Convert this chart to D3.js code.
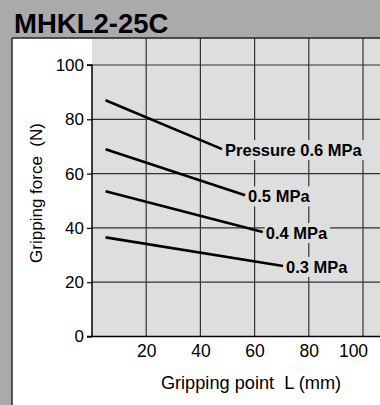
<!DOCTYPE html>
<html>
<head>
<meta charset="utf-8">
<script src="https://cdn.jsdelivr.net/npm/d3@7"></script>
<style>
  html, body { margin: 0; padding: 0; background: #aaaaaa; }
  svg { display: block; }
  text { font-family: "Liberation Sans", Arial, Helvetica, sans-serif; }
</style>
</head>
<body>
<svg id="chart" width="380" height="405"></svg>
<script>
const title = "MHKL2-25C";
const seriesNames = ["Pressure 0.6 MPa", "0.5 MPa", "0.4 MPa", "0.3 MPa"];
const gripStart = [5, 5, 5, 5];
const gripEnd = [48, 56.5, 63, 70.5];
const forceStart = [87, 69, 53.5, 36.5];
const forceEnd = [69, 52, 38.5, 26];
const xTicks = [20, 40, 60, 80, 100];
const yTicks = [0, 20, 40, 60, 80, 100];
const xLabel = "Gripping point  L (mm)";
const yLabel = "Gripping force  (N)";

const W = 380, H = 405;
const svg = d3.select("#chart");

svg.append("rect").attr("width", W).attr("height", H).attr("fill", "#aaaaaa");
svg.append("text").attr("x", 14).attr("y", 33)
  .attr("font-size", 27.5).attr("font-weight", "bold").attr("fill", "#000")
  .text(title);
svg.append("rect").attr("x", 12).attr("y", 38).attr("width", W - 12).attr("height", H - 38)
  .attr("fill", "#ffffff");
svg.append("line").attr("x1", 12).attr("x2", 12).attr("y1", 38).attr("y2", H)
  .attr("stroke", "#111").attr("stroke-width", 1.3);

const x = d3.scaleLinear().domain([0, 100]).range([92, 363]);
const y = d3.scaleLinear().domain([0, 100]).range([336.5, 65]);
const plotTop = 38, plotRight = W;

svg.append("rect").attr("x", x(0)).attr("y", plotTop)
  .attr("width", plotRight - x(0)).attr("height", y(0) - plotTop)
  .attr("fill", "#dedede");

const grid = svg.append("g");
grid.selectAll("line.h").data(yTicks.filter(d => d > 0)).join("line")
  .attr("x1", x(0)).attr("x2", plotRight)
  .attr("y1", d => y(d)).attr("y2", d => y(d))
  .attr("stroke", "#333").attr("stroke-width", 1.2);
grid.selectAll("line.v").data(xTicks).join("line")
  .attr("x1", d => x(d)).attr("x2", d => x(d))
  .attr("y1", plotTop).attr("y2", y(0))
  .attr("stroke", "#333").attr("stroke-width", 1.2);
svg.append("line").attr("x1", 12).attr("x2", W).attr("y1", plotTop).attr("y2", plotTop)
  .attr("stroke", "#222").attr("stroke-width", 1.3);

const yAxis = d3.axisLeft(y).tickValues(yTicks).tickSize(5).tickPadding(3);
const gy = svg.append("g").attr("transform", `translate(${x(0)},0)`).call(yAxis);
gy.select(".domain").attr("d", `M-5,${y(100)}H0V${y(0)}`).attr("stroke", "#000").attr("stroke-width", 1.5);
gy.selectAll(".tick line").attr("stroke", "#000").attr("stroke-width", 1.2);
gy.selectAll(".tick text").attr("font-size", 17).attr("fill", "#000")
  .attr("font-family", "Liberation Sans, Arial, sans-serif");

svg.append("line").attr("x1", x(0) - 5).attr("x2", plotRight)
  .attr("y1", y(0)).attr("y2", y(0)).attr("stroke", "#000").attr("stroke-width", 1.6);

const xAxis = d3.axisBottom(x).tickValues(xTicks).tickSize(0).tickPadding(8);
const gx = svg.append("g").attr("transform", `translate(0,${y(0)})`).call(xAxis);
gx.select(".domain").remove();
gx.selectAll(".tick text").attr("font-size", 17.5).attr("fill", "#000")
  .attr("font-family", "Liberation Sans, Arial, sans-serif")
  .attr("dx", d => d === 100 ? -10 : 0);

svg.append("text").attr("x", 251).attr("y", 389).attr("text-anchor", "middle")
  .attr("font-size", 18.2).attr("fill", "#000").style("white-space", "pre")
  .text(xLabel);
svg.append("text").attr("transform", "translate(42,193) rotate(-90)")
  .attr("text-anchor", "middle").attr("font-size", 17).attr("fill", "#000")
  .style("white-space", "pre").text(yLabel);

const data = seriesNames.map((n, i) => ({
  name: n,
  pts: [[gripStart[i], forceStart[i]], [gripEnd[i], forceEnd[i]]]
}));
const line = d3.line().x(d => x(d[0])).y(d => y(d[1]));

const lblG = svg.append("g");
data.forEach(s => {
  const end = s.pts[1];
  const t = lblG.append("text")
    .attr("x", x(end[0]) + 3).attr("y", y(end[1]) + 7)
    .attr("font-size", 16.5).attr("font-weight", "bold").attr("fill", "#000")
    .text(s.name);
  const bb = t.node().getBBox();
  lblG.insert("rect", "text")
    .attr("x", bb.x - 1).attr("y", bb.y - 1)
    .attr("width", bb.width + 3).attr("height", bb.height + 2)
    .attr("fill", "#dedede");
});

svg.append("g").selectAll("path").data(data).join("path")
  .attr("d", d => line(d.pts))
  .attr("fill", "none").attr("stroke", "#000").attr("stroke-width", 2.6);
svg.node().appendChild(lblG.node());
</script>
</body>
</html>
